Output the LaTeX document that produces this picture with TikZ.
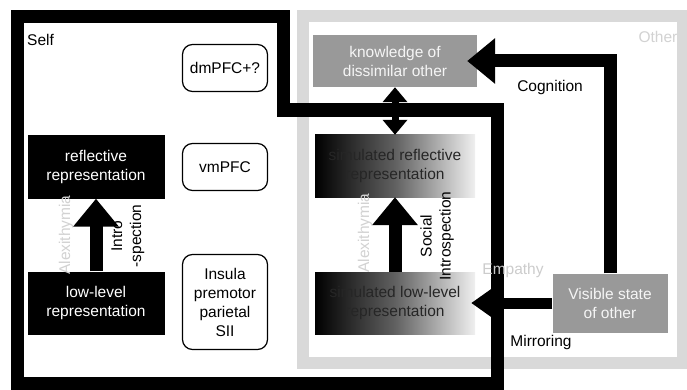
\documentclass[tikz,border=0pt]{standalone}
\usepackage{fontspec}
\setmainfont{Liberation Sans}
\usetikzlibrary{arrows.meta}
\begin{document}
\begin{tikzpicture}[x=1pt,y=-1pt,
  txt/.style={font=\fontsize{15.5}{19}\selectfont, align=center, inner sep=0pt},
  blk/.style={txt, fill=black, text=white, minimum width=137pt, minimum height=63pt},
  sim/.style={txt, left color=black, right color=gray!12, middle color=black!62, text=black!85, minimum width=160pt, minimum height=62pt},
  gbox/.style={txt, fill=black!40, text=gray!8},
  region/.style={txt, draw=black, line width=1.2pt, rounded corners=10pt, minimum width=85pt},
  bigarrow/.style={line width=13pt, -{Triangle[length=28pt,width=44pt]}},
  faint/.style={txt, text=gray!35}
]
\useasboundingbox (0,0) rectangle (687,390);
\fill[white] (0,0) rectangle (687,390);
% Other frame
\draw[gray!30, line width=12pt] (303,16) rectangle (682.5,363);
% nodes
\node[blk] (refl) at (96,167) {reflective\\representation};
\node[blk] (low) at (96,303) {low-level\\representation};
\node[sim] (srefl) at (395,166) {simulated reflective\\representation};
\node[sim] (slow) at (395,303) {simulated low-level\\representation};
\node[gbox, minimum width=164pt, minimum height=52pt] (know) at (395,61) {knowledge of\\dissimilar other};
\node[gbox, minimum width=115pt, minimum height=59pt] (vis) at (610,303) {Visible state\\of other};
\node[region, minimum height=47pt] (dm) at (225,68) {dmPFC+?};
\node[region, minimum height=47pt] (vm) at (225,167) {vmPFC};
\node[region, minimum height=95pt] (ins) at (225,302) {Insula\\premotor\\parietal\\SII};
% Self frame
\draw[line width=13.5pt, line join=miter] (17.5,16.5) -- (283.5,16.5) -- (283.5,110) -- (497.5,110) -- (497.5,384) -- (17.5,384) -- cycle;
% arrows
\draw[bigarrow] (low.north) -- (refl.south);
\draw[bigarrow] (slow.north) -- (srefl.south);
\draw[line width=7pt, {Triangle[length=15pt,width=24pt]}-{Triangle[length=15pt,width=24pt]}] (know.south) -- (srefl.north);
\draw[line width=11pt, -{Triangle[length=24pt,width=32pt]}, shorten >=-4pt] (vis.west) -- (slow.east);
\coordinate (corner) at (vis.north |- know.east);
\draw[bigarrow, line join=miter, shorten >=-10pt] (vis.north) -- (corner) -- (know.east);
% labels
\node[txt, anchor=west] (self) at (27,40) {Self};
\node[faint] (other) at (658,37) {Other};
\node[txt] (cog) at (550,87) {Cognition};
\node[txt] (mir) at (541,342) {Mirroring};
\node[txt, text=gray!40] (emp) at (513,270) {Empathy};
\node[txt, rotate=90] (intro) at (128,236) {Intro\\-spection};
\node[txt, rotate=90] (soc) at (437,236) {Social\\Introspection};
\node[faint, rotate=90] (alex1) at (66,235) {Alexithymia};
\node[faint, rotate=90] (alex2) at (365,233) {Alexithymia};
\end{tikzpicture}
\end{document}
